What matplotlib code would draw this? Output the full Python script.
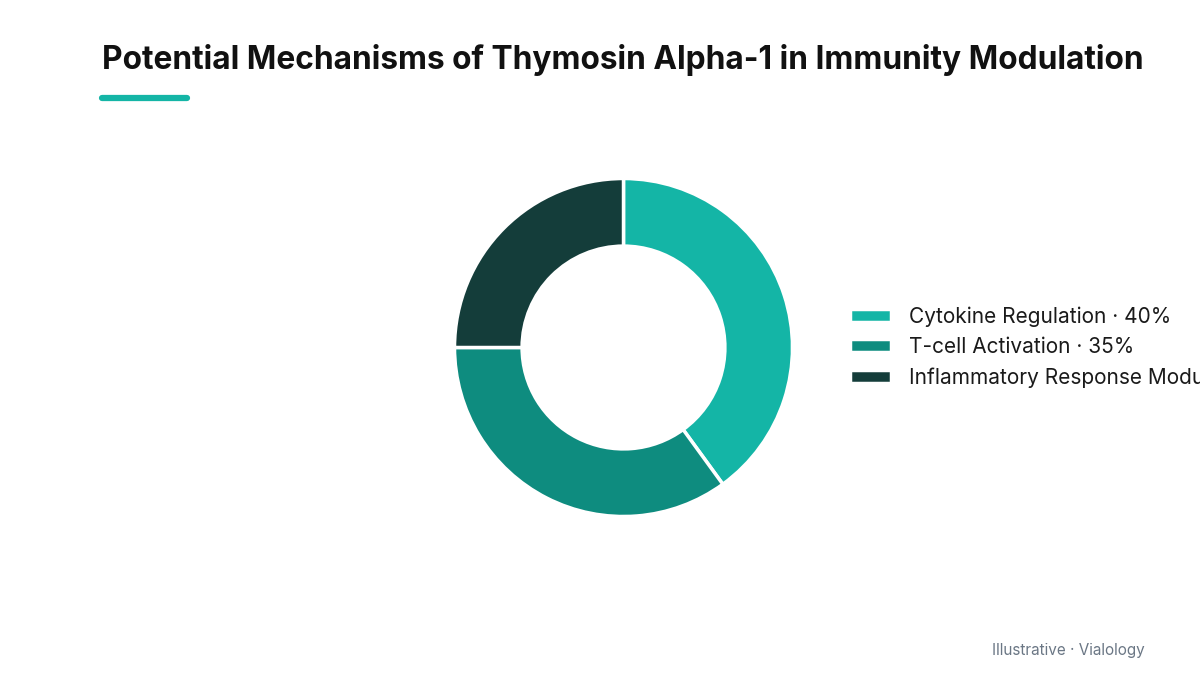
import matplotlib
matplotlib.use('Agg')
import matplotlib.pyplot as plt
from matplotlib.lines import Line2D

plt.rcParams['font.family'] = ['Inter', 'DejaVu Sans']

labels = ['Cytokine Regulation', 'T-cell Activation', 'Inflammatory Response Modulation']
shares = [40, 35, 25]
colors = ['#14B5A6', '#0E8C7F', '#143D3A']

W, H = 1200, 675
fig = plt.figure(figsize=(12, 6.75), dpi=100)
fig.patch.set_facecolor('white')

# donut: centre ~(623, 347) px, outer radius ~169 px
cx, cy, R = 623.5, 347.5, 169
ax = fig.add_axes([(cx - R) / W, 1 - (cy + R) / H, 2 * R / W, 2 * R / H])
wedges, _ = ax.pie(shares, colors=colors, startangle=90, counterclock=False,
                   radius=1, wedgeprops=dict(width=0.40, edgecolor='white', linewidth=2.5))
ax.set_xlim(-1, 1)
ax.set_ylim(-1, 1)
ax.set_aspect('equal')
ax.axis('off')

# last label runs off the right edge, as in the original
leg_labels = [f'{l} \u00b7 {s}%' for l, s in zip(labels, shares)]
fig.legend(wedges, leg_labels, loc='center left',
           bbox_to_anchor=(850 / W, 1 - 347 / H), frameon=False,
           fontsize=15, handlelength=1.95, handleheight=0.58,
           handletextpad=0.88, labelspacing=0.5, borderpad=0, borderaxespad=0,
           labelcolor='#1a1a1a')

fig.text(623 / W, 1 - 60 / H, 'Potential Mechanisms of Thymosin Alpha-1 in Immunity Modulation',
         ha='center', va='center', fontsize=22.8, fontweight='bold', color='#111111')

fig.add_artist(Line2D([102 / W, 187 / W], [1 - 98 / H, 1 - 98 / H], transform=fig.transFigure,
                      color='#14B5A6', linewidth=4.5, solid_capstyle='round'))

fig.text(1145 / W, 1 - 650 / H, 'Illustrative \u00b7 Vialology', ha='right', va='center',
         fontsize=11, color='#6B7785')

fig.savefig('out.png', dpi=100)
